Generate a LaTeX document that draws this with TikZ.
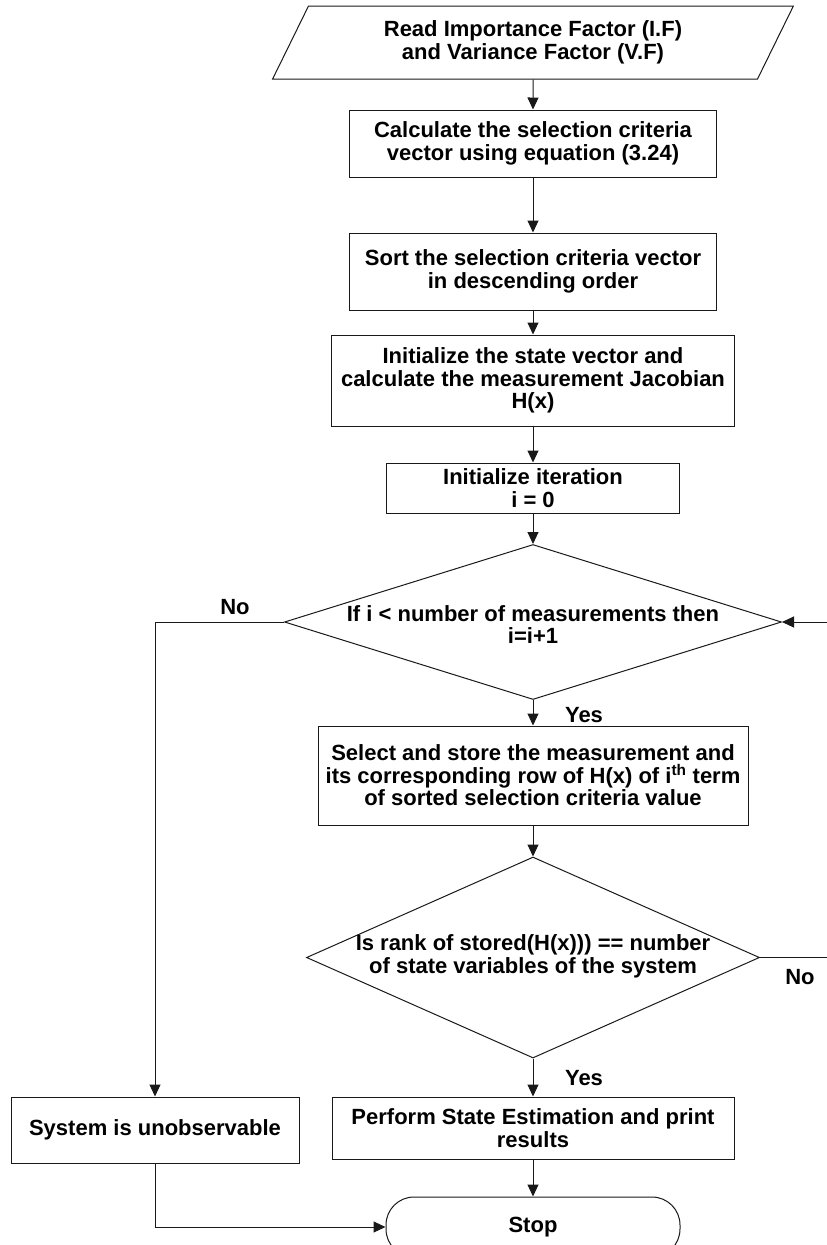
\documentclass[tikz,border=0pt]{standalone}
\usepackage{fontspec}
\setmainfont{Liberation Sans}
\usetikzlibrary{shapes.geometric,arrows.meta}
\begin{document}
\begin{tikzpicture}[x=1pt,y=-1pt,
  every node/.style={font=\fontsize{22}{22.5}\selectfont\bfseries, align=center, inner sep=0pt},
  stroke/.style={draw=black!90, line width=1pt},
  procbox/.style={stroke, rectangle},
  iobox/.style={stroke, trapezium, trapezium left angle=61, trapezium right angle=119, trapezium stretches=true},
  decision/.style={stroke, diamond},
  terminal/.style={stroke, rectangle, rounded corners=28},
  flow/.style={line width=1pt, draw=black!90, -{Triangle[length=12pt,width=11pt]}},
  link/.style={line width=1pt, draw=black!90}
]
\useasboundingbox (0,0) rectangle (827,1245);

% input
\node[iobox, minimum width=522, minimum height=73] (read) at (533,42.5)
  {Read Importance Factor (I.F)\\and Variance Factor (V.F)};

% processing steps
\node[procbox, minimum width=367, minimum height=67] (calc) at (533,143.5)
  {Calculate the selection criteria\\vector using equation (3.24)};
\node[procbox, minimum width=367, minimum height=77] (sort) at (533,271.5)
  {Sort the selection criteria vector\\in descending order};
\node[procbox, minimum width=403, minimum height=91] (init) at (533,380.5)
  {Initialize the state vector and\\calculate the measurement Jacobian\\H(x)};
\node[procbox, minimum width=293, minimum height=50] (iter) at (533,488)
  {Initialize iteration\\i = 0};

% loop test
\node[decision, minimum width=497, minimum height=155] (d1) at (533,622) {};
\node (d1text) at (533,624.5) {If i < number of measurements then\\i=i+1};

\node[procbox, minimum width=430, minimum height=99] (sel) at (533,775.5)
  {Select and store the measurement and\\its corresponding row of H(x) of i\textsuperscript{th} term\\of sorted selection criteria value};

% rank test
\node[decision, minimum width=453, minimum height=201] (d2) at (533,957.5) {};
\node (d2text) at (533,956.5) {Is rank of stored(H(x))) == number\\of state variables of the system};

\node[procbox, minimum width=288, minimum height=66] (unobs) at (155,1130)
  {System is unobservable};
\node[procbox, minimum width=402, minimum height=62] (est) at (533,1128)
  {Perform State Estimation and print\\results};
\node[terminal, minimum width=294, minimum height=60] (stop) at (533,1227) {Stop};

% branch labels
\node (no1) at (235,607) {No};
\node (yes1) at (584,715) {Yes};
\node (yes2) at (584,1078) {Yes};
\node (no2) at (800,977) {No};

% connectors
\draw[flow] (read.south) -- (calc.north);
\draw[flow] (calc.south) -- (sort.north);
\draw[flow] (sort.south) -- (init.north);
\draw[flow] (init.south) -- (iter.north);
\draw[flow] (iter.south) -- (d1.north);
\draw[flow] (d1.south) -- (sel.north);
\draw[flow] (sel.south) -- (d2.north);
\draw[flow] (d2.south) -- (est.north);
\draw[flow] (est.south) -- (stop.north);
\draw[flow] (d1.west) -| (unobs.north);
\draw[flow] (unobs.south) |- (stop.west);
\draw[flow] (d2.east) -- ++(90,0) |- (d1.east);
\end{tikzpicture}
\end{document}
